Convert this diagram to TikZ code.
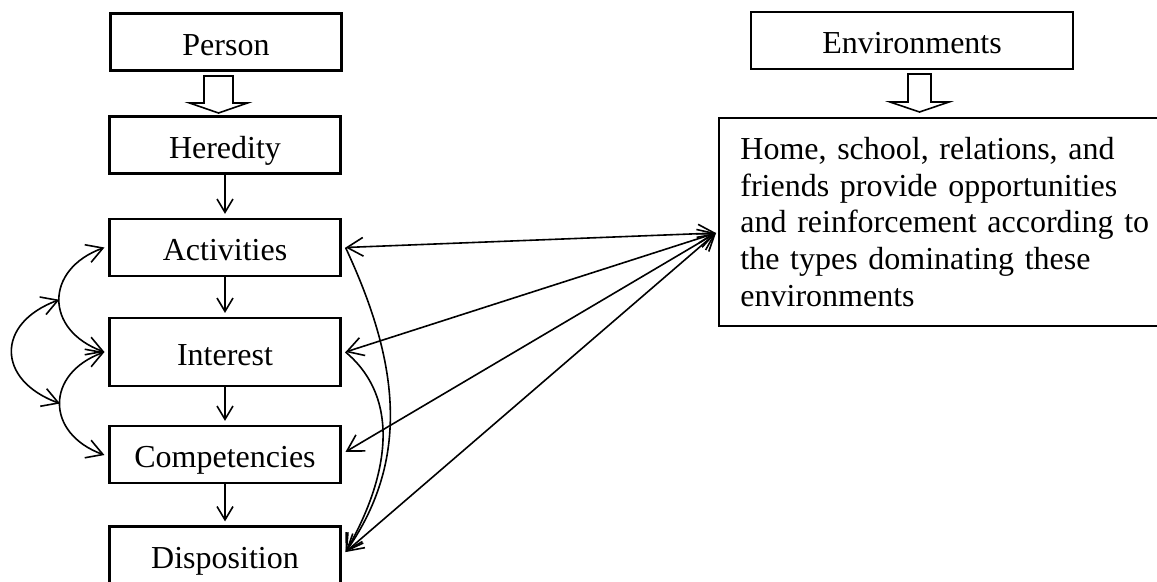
\documentclass[tikz,border=0pt]{standalone}
\usepackage{fontspec}
\setmainfont{Liberation Serif}
\usetikzlibrary{arrows.meta}

\begin{document}
\begin{tikzpicture}[
    x=0.375pt, y=0.375pt,
    box/.style={rectangle, draw, line width=0.8pt, inner sep=0pt, minimum width=86.6pt, minimum height=21.4pt, text height=9.8pt, text depth=0pt, font=\fontsize{12pt}{13.8pt}\selectfont},
    text_box/.style={rectangle, draw, line width=0.8pt, inner xsep=8pt, inner ysep=7.1pt, text width=158pt, align=left, anchor=north west, font=\fontsize{12pt}{13.8pt}\selectfont},
    down_arrow/.style={line width=0.6pt, shorten >=1.5pt, -{Straight Barb[length=5pt,width=6pt]}},
    link/.style={line width=0.6pt, -{Straight Barb[length=6pt,width=7pt]}},
    two_way/.style={line width=0.6pt, {Straight Barb[length=6pt,width=7pt]}-{Straight Barb[length=6pt,width=7pt]}},
    hollow/.style={draw, line width=0.6pt, fill=white}
]
    \useasboundingbox (0,0) rectangle (1157,-581);

    % left column
    \node[box] (person) at (226,-42) {Person};
    \node[box] (heredity) at (225,-145) {Heredity};
    \node[box] (activities) at (225,-247.5) {Activities};
    \node[box, minimum height=25.5pt] (interest) at (225,-352) {Interest};
    \node[box] (competencies) at (225,-454.5) {Competencies};
    \node[box] (disposition) at (225,-555) {Disposition};

    % right column
    \node[box, minimum width=120.75pt] (environments) at (912,-40.5) {Environments};
    \node[text_box] (settings) at (718,-117) {Home, school, relations, and\\ friends provide opportunities\\ and reinforcement according to\\ the types dominating these\\ environments};
    \coordinate (hub) at (716,-233);

    % block arrows
    \draw[hollow] (204,-76) -- ++(29,0) -- ++(0,-27) -- ++(14.5,0) -- ++(-29,-10) -- ++(-29,10) -- ++(14.5,0) -- cycle;
    \draw[hollow] (908,-74) -- ++(23,0) -- ++(0,-28) -- ++(18,0) -- ++(-29.5,-10) -- ++(-29.5,10) -- ++(18,0) -- cycle;

    % chain
    \draw[down_arrow] (heredity) -- (activities);
    \draw[down_arrow] (activities) -- (interest);
    \draw[down_arrow] (interest) -- (competencies);
    \draw[down_arrow] (competencies) -- (disposition);

    % feedback on the left
    \draw[two_way] ([xshift=-1.5pt]activities.west) to[out=200, in=160, looseness=1.57] coordinate[pos=0.5] (loopA) ([xshift=-1.5pt]interest.west);
    \draw[two_way] ([xshift=-1.5pt]interest.west) to[out=200, in=160, looseness=1.57] coordinate[pos=0.5] (loopB) ([xshift=-1.5pt,yshift=-0.2pt]competencies.west);
    \draw[two_way] (loopA) to[out=200, in=160, looseness=1.67] (loopB);

    % links to the environments
    \draw[two_way] (hub) -- ([xshift=1.5pt]activities.east);
    \draw[two_way] (hub) -- ([xshift=1.5pt]interest.east);
    \draw[two_way] (hub) -- ([xshift=1.5pt,yshift=1pt]competencies.east);
    \draw[two_way] (hub) -- ([xshift=1.5pt,yshift=1.1pt]disposition.east);

    % links on the right
    \draw[link] ([xshift=1.5pt]activities.east) to[out=-65, in=55] ([xshift=1.5pt,yshift=1.1pt]disposition.east);
    \draw[link] ([xshift=1.5pt]interest.east) to[out=-40, in=60] ([xshift=1.5pt,yshift=1.1pt]disposition.east);
\end{tikzpicture}
\end{document}
